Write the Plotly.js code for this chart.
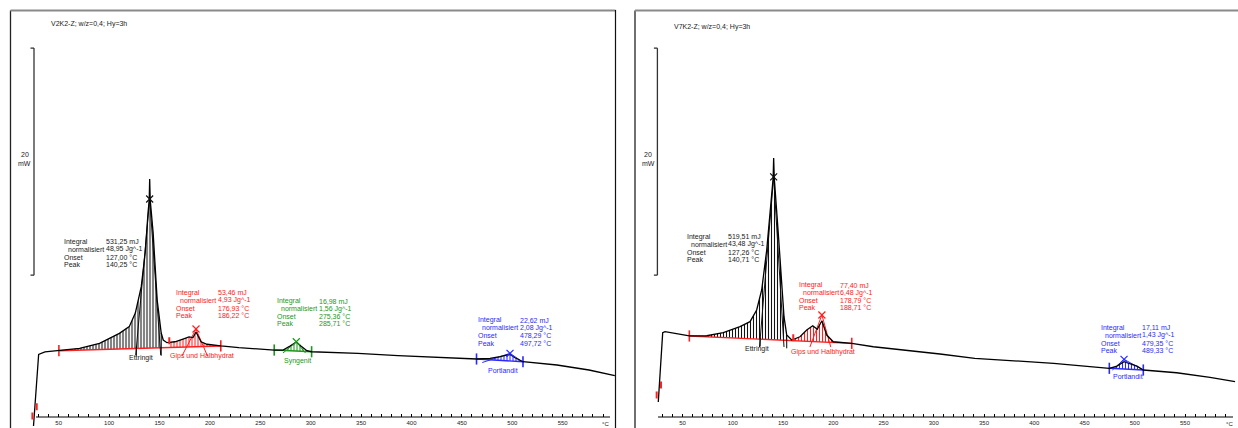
<!DOCTYPE html>
<html>
<head>
<meta charset="utf-8">
<script src="https://cdn.plot.ly/plotly-3.0.1.min.js"></script>
<style>
  html, body { margin: 0; padding: 0; background: #fff; }
  #dsc { width: 1238px; height: 428px; }
</style>
</head>
<body>
<div id="dsc"></div>
<script>
// ---- DSC data: temperature (°C) and heat flow (mW) ----
// Sample V2K2-Z; w/z=0,4; Hy=3h
const v2T  = [25.0, 28.1, 30.1, 36.4, 50.2, 70.7, 90.5, 110.2, 120.0, 126.0, 131.9, 135.8, 138.6, 139.8, 140.25, 140.8,
              143.7, 147.7, 151.7, 153.7, 157.4, 165.4, 173.3, 179.3, 183.2, 186.22, 191.2, 197.1, 210.8, 228.7,
              263.8, 272.6, 279.5, 285.71, 290.3, 296.2, 300.9, 346.9, 386.6, 426.0, 464.5, 477.9, 487.8, 497.72,
              502.7, 510.6, 544.3, 576.1, 601.7];
const v2MW = [-0.79, 3.52, 5.52, 5.73, 5.84, 6.05, 6.49, 7.37, 7.96, 9.16, 11.48, 14.45, 17.97, 19.12, 20.97, 19.12,
              16.21, 10.31, 7.40, 6.78, 6.55, 6.63, 6.87, 7.05, 7.00, 7.49, 6.63, 6.41, 6.26, 6.11,
              5.90, 5.90, 6.26, 6.61, 6.26, 5.84, 5.75, 5.61, 5.40, 5.26, 5.11, 5.17, 5.31, 5.52,
              5.22, 4.87, 4.58, 4.14, 3.64];

// Sample V7K2-Z; w/z=0,4; Hy=3h
const v7T  = [25.9, 28.3, 30.3, 32.6, 40.8, 56.8, 74.1, 90.6, 107.2, 117.2, 123.8, 128.8, 133.8, 138.1, 140.2, 140.71,
              141.3, 145.3, 148.7, 151.0, 153.7, 158.7, 166.9, 173.6, 179.6, 184.1, 188.71, 193.5, 200.0, 218.4,
              239.9, 273.1, 306.2, 340.8, 419.3, 474.7, 482.3, 489.33, 502.2, 508.5, 541.7, 574.9, 599.8];
const v7MW = [1.32, 4.73, 7.43, 7.52, 7.37, 7.14, 7.16, 7.43, 7.96, 8.40, 9.43, 11.19, 14.71, 18.83, 21.06, 22.82,
              21.06, 16.19, 11.19, 8.84, 7.22, 6.78, 7.07, 7.67, 8.04, 7.73, 8.48, 7.22, 6.63, 6.49,
              6.19, 5.90, 5.55, 5.17, 4.73, 4.29, 4.49, 4.87, 4.49, 4.14, 3.90, 3.50, 3.11];

// ---- Peak evaluation results ----
const v2Names    = ['Ettringit', 'Gips und Halbhydrat', 'Syngenit', 'Portlandit'];
const v2Integral = [531.25, 53.46, 16.98, 22.62];   // mJ
const v2Norm     = [48.95, 4.93, 1.56, 2.08];       // Jg^-1
const v2Onset    = [127.00, 176.93, 275.36, 478.29];
const v2Peak     = [140.25, 186.22, 285.71, 497.72];
const v2BaseFrom = [50.2, 50.2, 263.8, 464.5];      // baseline limits (°C)
const v2BaseTo   = [210.8, 210.8, 300.9, 510.6];
const v2From     = [50.2, 159.7, 263.8, 464.5];     // integration limits (°C)
const v2To       = [151.7, 210.8, 300.9, 510.6];
const v2MarkMW   = [19.21, 7.75, 6.63, 5.61];       // peak cross height (mW)
const v2EndT     = [151.2, 197.6, 294.8, 511.2];    // foot of falling tangent (°C)
const v2FootMW   = [5.45, 5.37, 5.64, 4.80];

const v7Names    = ['Ettringit', 'Gips und Halbhydrat', 'Portlandit'];
const v7Integral = [519.51, 77.40, 17.11];
const v7Norm     = [43.48, 6.48, 1.43];
const v7Onset    = [127.26, 178.79, 479.35];
const v7Peak     = [140.71, 188.71, 489.33];
const v7BaseFrom = [56.8, 56.8, 474.7];
const v7BaseTo   = [218.4, 218.4, 508.5];
const v7From     = [56.8, 160.2, 474.7];
const v7To       = [153.7, 218.4, 508.5];
const v7MarkMW   = [21.15, 8.99, 5.08];
const v7EndT     = [151.0, 197.5, 508.5];
const v7FootMW   = [6.17, 6.17, 4.14];

// small start-up marks near the beginning of each run
const v2StartT = [23.9, 28.2], v2StartMW = [0.09, 0.91];
const v7StartT = [24.3, 28.6], v7StartMW = [1.94, 2.82];

const scaleMW = 20;   // length of the heat-flow scale bar (mW)
const tickTemps = [];
for (let t = 30; t <= 590; t += 10) tickTemps.push(t);

// ---- geometry ----
const W = 1238, H = 428;
const PX_PER_MW = 11.35, ZERO_ROW = 417;
const yMin = -(H - ZERO_ROW) / PX_PER_MW, yMax = yMin + H / PX_PER_MW;
const fx = p => p / W;
const fy = p => 1 - p / H;

const RED = '#ff2020', GREEN = '#1e961e', BLUE = '#2a2aff', INK = '#111';
const FONT = 'Liberation Sans, Arial, sans-serif';

const panels = [
  { xa: 'x', ax: 'xaxis', x50: 58.7, k: 1.008, frame: [10.5, 615.5], axis: [36, 610], unitX: 605,
    title: 'V2K2-Z; w/z=0,4; Hy=3h', titleX: 49.5, titleY: 24, bar: 34, barText: 24.5,
    T: v2T, Y: v2MW, names: v2Names, integ: v2Integral, norm: v2Norm, onset: v2Onset, peak: v2Peak,
    bFrom: v2BaseFrom, bTo: v2BaseTo, from: v2From, to: v2To, mark: v2MarkMW, endT: v2EndT, foot: v2FootMW,
    sT: v2StartT, sY: v2StartMW,
    colors: [INK, RED, GREEN, BLUE], baseColors: [RED, RED, GREEN, BLUE],
    blocks: [[63, 241.7, 105], [174.5, 292.8, 216.5], [276, 301, 318], [477, 320.3, 519]],
    labels: [[141.3, 357.7], [202, 356.3], [297.3, 361], [503.3, 370.7]] },
  { xa: 'x2', ax: 'xaxis2', x50: 682.5, k: 1.005, frame: [635, 1239], axis: [658, 1233], unitX: 1229,
    title: 'V7K2-Z; w/z=0,4; Hy=3h', titleX: 673, titleY: 26.5, bar: 657.4, barText: 648.3,
    T: v7T, Y: v7MW, names: v7Names, integ: v7Integral, norm: v7Norm, onset: v7Onset, peak: v7Peak,
    bFrom: v7BaseFrom, bTo: v7BaseTo, from: v7From, to: v7To, mark: v7MarkMW, endT: v7EndT, foot: v7FootMW,
    sT: v7StartT, sY: v7StartMW,
    colors: [INK, RED, BLUE], baseColors: [RED, RED, BLUE],
    blocks: [[685.5, 236.8, 727.3], [797.8, 285, 839], [1100.3, 327.7, 1141.3]],
    labels: [[757.3, 349], [822.7, 352.3], [1128.3, 376.7]] }
];

function at(T, Y, t) {
  for (let i = 1; i < T.length; i++) {
    if (t <= T[i]) {
      const f = (t - T[i - 1]) / (T[i] - T[i - 1]);
      return Y[i - 1] + f * (Y[i] - Y[i - 1]);
    }
  }
  return Y[Y.length - 1];
}
const fmt = v => v.toFixed(2).replace('.', ',');
const stroke = (symbol, size, width, color) =>
  ({ symbol, size, color, line: { width, color } });

const traces = [], shapes = [], annotations = [];
const layout = {
  width: W, height: H, margin: { l: 0, r: 0, t: 0, b: 0 },
  paper_bgcolor: '#fff', plot_bgcolor: 'rgba(0,0,0,0)',
  showlegend: false, font: { family: FONT, size: 7, color: '#222' },
  yaxis: { domain: [0, 1], range: [yMin, yMax], visible: false, fixedrange: true }
};

panels.forEach(P => {
  const tAt = p => 50 + (p - P.x50) / P.k;
  const right = Math.min(P.frame[1], W);
  layout[P.ax] = {
    domain: [fx(P.frame[0]), fx(right)],
    range: [tAt(P.frame[0]), tAt(right)],
    anchor: 'free', position: fy(ZERO_ROW),
    showgrid: false, zeroline: false, showline: false,
    ticks: 'inside', ticklen: 3, tickwidth: 1, tickcolor: '#000', ticklabelstandoff: 1,
    tickvals: tickTemps, ticktext: tickTemps.map(t => (t % 50 === 0 ? String(t) : '')),
    tickfont: { family: FONT, size: 6, color: '#222' }, fixedrange: true
  };
  const xa = P.xa;
  const c = t => at(P.T, P.Y, t);
  const base = i => t => c(P.bFrom[i]) + (t - P.bFrom[i]) * (c(P.bTo[i]) - c(P.bFrom[i])) / (P.bTo[i] - P.bFrom[i]);

  // hatched integration areas
  P.names.forEach((n, i) => {
    const b = base(i);
    const xs = [P.from[i]], ys = [c(P.from[i])];
    P.T.forEach((t, j) => { if (t > P.from[i] && t < P.to[i]) { xs.push(t); ys.push(P.Y[j]); } });
    xs.push(P.to[i], P.to[i], P.from[i]);
    ys.push(c(P.to[i]), b(P.to[i]), b(P.from[i]));
    traces.push({
      x: xs, y: ys, xaxis: xa, yaxis: 'y', mode: 'lines', fill: 'toself',
      line: { width: 0, color: 'rgba(0,0,0,0)' }, fillcolor: 'rgba(0,0,0,0)',
      fillpattern: { shape: '|', size: 3, solidity: 0.36, fgcolor: P.colors[i], bgcolor: 'rgba(0,0,0,0)' },
      hoverinfo: 'skip'
    });
  });

  // baselines and limit brackets
  P.names.forEach((n, i) => {
    if (i > 0 && P.bFrom[i] === P.bFrom[i - 1] && P.bTo[i] === P.bTo[i - 1]) return;
    traces.push({
      x: [P.bFrom[i], P.bTo[i]], y: [c(P.bFrom[i]), c(P.bTo[i])], xaxis: xa, yaxis: 'y',
      mode: 'lines+markers', line: { color: P.baseColors[i], width: 1.4 },
      marker: stroke('line-ns-open', 8, 1.6, P.baseColors[i]), hoverinfo: 'skip'
    });
  });

  // tangents through onset and peak cross
  P.names.forEach((n, i) => {
    const bOn = base(i)(P.onset[i]);
    const footL = P.onset[i] + (P.foot[i] - bOn) * (P.peak[i] - P.onset[i]) / (P.mark[i] - bOn);
    traces.push({
      x: [footL, P.peak[i], P.endT[i]], y: [P.foot[i], P.mark[i], P.foot[i]], xaxis: xa, yaxis: 'y',
      mode: 'lines', line: { color: P.colors[i], width: 1 }, hoverinfo: 'skip'
    });
  });

  // measured curve
  traces.push({ x: P.T, y: P.Y, xaxis: xa, yaxis: 'y', mode: 'lines',
                line: { color: '#000', width: 1.3 }, hoverinfo: 'skip' });

  // peak crosses
  P.names.forEach((n, i) => {
    traces.push({ x: [P.peak[i]], y: [P.mark[i]], xaxis: xa, yaxis: 'y', mode: 'markers',
      marker: stroke('x-thin-open', 7, 1.2, P.colors[i]), hoverinfo: 'skip' });
  });

  // Ettringit onset / end ticks
  {
    const b = base(0);
    traces.push({
      x: [P.onset[0], P.onset[0], null, P.to[0], P.to[0]],
      y: [b(P.onset[0]) + 0.15, b(P.onset[0]) - 0.65, null, c(P.to[0]), b(P.to[0]) - 0.7],
      xaxis: xa, yaxis: 'y', mode: 'lines', line: { color: '#000', width: 1 }, hoverinfo: 'skip'
    });
  }
  // start of the second integration
  traces.push({ x: [P.from[1]], y: [c(P.from[1]) + 0.15], xaxis: xa, yaxis: 'y', mode: 'markers',
    marker: stroke('line-ns-open', 5, 2, RED), hoverinfo: 'skip' });
  // start-up marks
  traces.push({ x: P.sT, y: P.sY, xaxis: xa, yaxis: 'y', mode: 'markers',
    marker: stroke('line-ns-open', 5, 2, RED), hoverinfo: 'skip' });

  // frame
  const line = (x0, y0, x1, y1, color, width) => shapes.push({ type: 'line', xref: 'paper', yref: 'paper',
      x0: fx(x0), y0: fy(y0), x1: fx(x1), y1: fy(y1), line: { color, width } });
  line(P.frame[0], 10.5, P.frame[0], H + 2, '#222', 1.3);
  line(P.frame[0], 10.5, right, 10.5, '#8a8a8a', 2);
  if (P.frame[1] < W) line(P.frame[1], 10, P.frame[1], H + 2, '#111', 1.2);
  // temperature axis line
  line(P.axis[0], ZERO_ROW, P.axis[1], ZERO_ROW, '#000', 1);

  // heat-flow scale bar
  const barLow = 12.5;
  [[P.bar, barLow, P.bar, barLow + scaleMW], [P.bar - 3.5, barLow, P.bar, barLow],
   [P.bar - 3.5, barLow + scaleMW, P.bar, barLow + scaleMW]].forEach(s =>
    shapes.push({ type: 'line', xref: 'paper', yref: 'y', x0: fx(s[0]), x1: fx(s[2]), y0: s[1], y1: s[3],
                  line: { color: '#333', width: 1.3 } }));

  const txt = (text, x, y, color, anchor, size) => annotations.push({
    text, x: fx(x), y: fy(y), xref: 'paper', yref: 'paper', xanchor: anchor || 'left', yanchor: 'middle',
    showarrow: false, font: { family: FONT, size: size || 7, color }, borderpad: 0 });

  txt(String(scaleMW), P.barText, 154, '#222', 'center');
  txt('mW', P.barText, 163.3, '#222', 'center');
  txt(P.title, P.titleX, P.titleY, '#222');
  txt('°C', P.unitX, 424, '#222', 'center', 6);

  // evaluation blocks
  const rowNames = ['Integral', 'normalisiert', 'Onset', 'Peak'];
  P.names.forEach((n, i) => {
    const [x0, y0, xv] = P.blocks[i];
    const vals = [fmt(P.integ[i]) + ' mJ', fmt(P.norm[i]) + ' Jg^-1', fmt(P.onset[i]) + ' °C', fmt(P.peak[i]) + ' °C'];
    const col = P.colors[i] === INK ? '#222' : P.colors[i];
    rowNames.forEach((r, j) => {
      txt(r, x0 + (j === 1 ? 4 : 0), y0 + j * 7.65, col);
      txt(vals[j], xv, y0 + j * 7.65, col);
    });
    txt(n, P.labels[i][0], P.labels[i][1], col, 'center');
  });
});

layout.shapes = shapes;
layout.annotations = annotations;

Plotly.newPlot('dsc', traces, layout, { displayModeBar: false, staticPlot: true });
</script>
</body>
</html>
